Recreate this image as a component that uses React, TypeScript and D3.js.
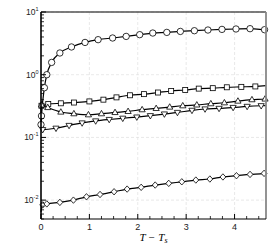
import React from "react";
import * as d3 from "d3";

const circX = [0, 0.01, 0.07, 0.12, 0.22, 0.39, 0.63, 0.91, 1.18, 1.48, 1.76, 2.04, 2.31, 2.6, 2.88, 3.17, 3.45, 3.74, 4.03, 4.32, 4.62, 4.65];
const circY = [0.16, 0.22, 0.62, 1.0, 1.57, 2.22, 2.77, 3.27, 3.62, 3.85, 4.08, 4.35, 4.62, 4.73, 4.9, 5.03, 5.16, 5.28, 5.36, 5.42, 5.22, 5.2];
const circM = [1, 1, 1, 1, 1, 1, 1, 1, 1, 1, 1, 1, 1, 1, 1, 1, 1, 1, 1, 1, 1, 0];

const sqX = [0, 0.01, 0.15, 0.41, 0.68, 1.0, 1.29, 1.56, 1.84, 2.13, 2.42, 2.69, 2.98, 3.26, 3.55, 3.84, 4.14, 4.43, 4.65];
const sqY = [0.33, 0.32, 0.34, 0.35, 0.36, 0.375, 0.4, 0.435, 0.47, 0.49, 0.52, 0.55, 0.57, 0.6, 0.61, 0.63, 0.64, 0.65, 0.67];
const sqM = [0, 1, 1, 1, 1, 1, 1, 1, 1, 1, 1, 1, 1, 1, 1, 1, 1, 1, 0];

const triX = [0, 0.01, 0.14, 0.41, 0.68, 0.98, 1.25, 1.53, 1.8, 2.09, 2.38, 2.66, 2.93, 3.22, 3.51, 3.79, 4.07, 4.36, 4.63, 4.65];
const triY = [0.34, 0.33, 0.3, 0.254, 0.239, 0.23, 0.239, 0.25, 0.26, 0.277, 0.29, 0.305, 0.32, 0.33, 0.345, 0.357, 0.38, 0.4, 0.41, 0.412];
const triM = [0, 1, 1, 1, 1, 1, 1, 1, 1, 1, 1, 1, 1, 1, 1, 1, 1, 1, 1, 0];

const dtriX = [0, 0.01, 0.035, 0.31, 0.58, 0.85, 1.13, 1.41, 1.69, 1.98, 2.26, 2.55, 2.82, 3.12, 3.39, 3.68, 3.97, 4.26, 4.55, 4.65];
const dtriY = [0.33, 0.17, 0.133, 0.14, 0.155, 0.17, 0.183, 0.193, 0.202, 0.211, 0.222, 0.236, 0.25, 0.27, 0.284, 0.29, 0.3, 0.312, 0.32, 0.322];
const dtriM = [0, 0, 1, 1, 1, 1, 1, 1, 1, 1, 1, 1, 1, 1, 1, 1, 1, 1, 1, 0];

const diaX = [0, 0.035, 0.12, 0.39, 0.67, 0.94, 1.22, 1.51, 1.78, 2.07, 2.36, 2.64, 2.91, 3.2, 3.49, 3.76, 4.04, 4.32, 4.61, 4.65];
const diaY = [0.0065, 0.0084, 0.0087, 0.0092, 0.01, 0.0113, 0.0123, 0.0136, 0.015, 0.016, 0.0174, 0.0185, 0.0196, 0.0209, 0.0217, 0.0234, 0.0245, 0.0257, 0.0267, 0.027];
const diaM = [0, 1, 1, 1, 1, 1, 1, 1, 1, 1, 1, 1, 1, 1, 1, 1, 1, 1, 1, 0];

const xTicks = [0, 1, 2, 3, 4];
const yDecades = [1, 0, -1, -2];
const xLabel = "T − T";
const xLabelSub = "s";

const W = 274, H = 244;
const L = 41, R = 266, T = 12, B = 219;

export default function App() {
  const x = d3.scaleLinear().domain([0, 4.65]).range([L, R]);
  const y = d3.scaleLog().domain([0.005, 10]).range([B, T]);
  const line = d3.line<[number, number]>().x(d => x(d[0])).y(d => y(d[1])).curve(d3.curveMonotoneX);

  const series = [
    { xs: circX, ys: circY, ms: circM, shape: "circle" },
    { xs: sqX, ys: sqY, ms: sqM, shape: "square" },
    { xs: triX, ys: triY, ms: triM, shape: "tri" },
    { xs: dtriX, ys: dtriY, ms: dtriM, shape: "dtri" },
    { xs: diaX, ys: diaY, ms: diaM, shape: "diamond" },
  ];

  const marker = (shape: string, cx: number, cy: number, k: string) => {
    const p = { fill: "white", stroke: "black", strokeWidth: 0.8 } as any;
    if (shape === "circle") return <circle key={k} cx={cx} cy={cy} r={3.2} {...p} />;
    if (shape === "square") return <rect key={k} x={cx - 2.5} y={cy - 2.5} width={5} height={5} {...p} />;
    if (shape === "tri") return <path key={k} d={`M${cx},${cy - 3.3}L${cx + 3.1},${cy + 2.1}L${cx - 3.1},${cy + 2.1}Z`} {...p} />;
    if (shape === "dtri") return <path key={k} d={`M${cx},${cy + 3.3}L${cx + 3.1},${cy - 2.1}L${cx - 3.1},${cy - 2.1}Z`} {...p} />;
    return <path key={k} d={`M${cx},${cy - 3.2}L${cx + 2.9},${cy}L${cx},${cy + 3.2}L${cx - 2.9},${cy}Z`} {...p} />;
  };

  const minorY: number[] = [];
  for (let e = -3; e <= 0; e++) {
    for (let m = 2; m <= 9; m++) {
      const v = m * Math.pow(10, e);
      if (v >= 0.005 && v <= 10) minorY.push(v);
    }
  }
  const minorX: number[] = [];
  for (let v = 0.25; v < 4.65; v += 0.25) {
    if (Math.abs(v - Math.round(v)) > 1e-6) minorX.push(v);
  }

  return (
    <svg width={W} height={H} style={{ position: "absolute", left: 0, top: 0, background: "white" }}
      fontFamily="'Liberation Sans', Arial, sans-serif">
      {xTicks.filter(t => t > 0).map(t => (
        <line key={"gx" + t} x1={x(t)} x2={x(t)} y1={T} y2={B} stroke="#e0e0e0" strokeWidth={0.7} strokeDasharray="3,2" />
      ))}
      {yDecades.map(e => (
        <line key={"gy" + e} x1={L} x2={R} y1={y(Math.pow(10, e))} y2={y(Math.pow(10, e))} stroke="#e0e0e0" strokeWidth={0.7} strokeDasharray="3,2" />
      ))}
      {series.map((s, i) => (
        <path key={"l" + i} d={line(s.xs.map((v, j) => [v, s.ys[j]] as [number, number])) || ""} fill="none" stroke="black" strokeWidth={1.2} />
      ))}
      {series.map((s, i) => s.xs.map((v, j) => s.ms[j] ? marker(s.shape, x(v), y(s.ys[j]), `m${i}-${j}`) : null))}
      <line x1={L} x2={R} y1={T} y2={T} stroke="black" strokeWidth={1.2} />
      <line x1={R} x2={R} y1={T} y2={B} stroke="#888" strokeWidth={1.8} />
      <line x1={L} x2={R} y1={B} y2={B} stroke="black" strokeWidth={1.2} />
      <line x1={L} x2={L} y1={T} y2={B} stroke="black" strokeWidth={1.6} />
      {yDecades.map(e => (
        <line key={"yt" + e} x1={L} x2={L + 5} y1={y(Math.pow(10, e))} y2={y(Math.pow(10, e))} stroke="black" strokeWidth={1} />
      ))}
      {minorY.map((v, i) => (
        <line key={"ym" + i} x1={L} x2={L + 3} y1={y(v)} y2={y(v)} stroke="black" strokeWidth={0.8} />
      ))}
      {xTicks.map(t => (
        <line key={"xt" + t} x1={x(t)} x2={x(t)} y1={B} y2={B - 5} stroke="black" strokeWidth={1} />
      ))}
      {minorX.map((v, i) => (
        <line key={"xm" + i} x1={x(v)} x2={x(v)} y1={B} y2={B - 3} stroke="black" strokeWidth={0.8} />
      ))}
      {yDecades.map(e => (
        <text key={"yl" + e} x={38.5} y={y(Math.pow(10, e)) + 3} textAnchor="end" fontSize={8.5} fill="#222">
          10<tspan fontSize={5.5} dy={-4}>{String(e)}</tspan>
        </text>
      ))}
      {xTicks.map(t => (
        <text key={"xl" + t} x={x(t)} y={229.5} textAnchor="middle" fontSize={9} fill="#222">{t}</text>
      ))}
      <text x={(L + R) / 2} y={241} textAnchor="middle" fontSize={11} fontStyle="italic" fontFamily="'Liberation Serif', serif">
        {xLabel}<tspan fontSize={8} dy={1.5}>{xLabelSub}</tspan>
      </text>
    </svg>
  );
}
